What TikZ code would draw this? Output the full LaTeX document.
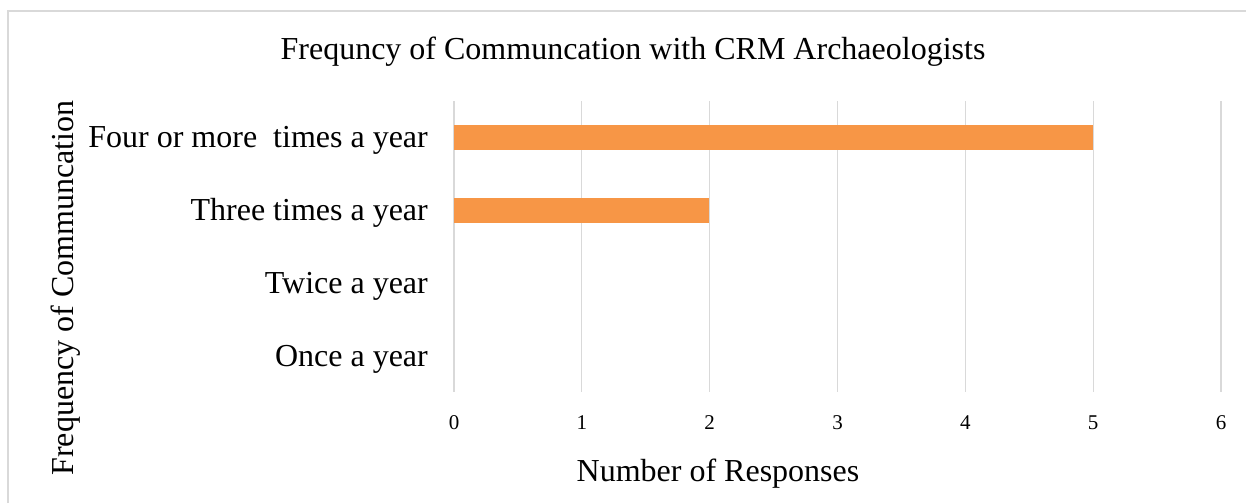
\documentclass[tikz,border=0pt]{standalone}
\usepackage{fontspec}
\setmainfont{Liberation Serif}
\definecolor{barorange}{HTML}{F79646}
\definecolor{gridgray}{HTML}{D9D9D9}
\begin{document}
\begin{tikzpicture}[x=1pt,y=-1pt,
  grid/.style={draw=gridgray,line width=1.3pt},
  bar/.style={fill=barorange,draw=none},
  cat/.style={anchor=east,inner sep=0pt,font=\fontsize{32}{36}\selectfont},
  tick/.style={anchor=center,inner sep=0pt,font=\fontsize{21}{24}\selectfont},
  axtitle/.style={inner sep=0pt,font=\fontsize{32}{36}\selectfont}]
\useasboundingbox (0,0) rectangle (1246,503);
\fill[white] (0,0) rectangle (1246,503);
\draw[gridgray,line width=1.3pt] (8,503) -- (8,11) -- (1246,11);
% gridlines
\foreach \i in {0,...,6} {
  \draw[grid] ({454+127.83*\i},101) -- ({454+127.83*\i},392);
  \node[tick] (t\i) at ({454+127.83*\i},423) {\i};
}
% bars
\fill[bar] (454,125) rectangle (1093,150);
\fill[bar] (454,198) rectangle (709,223);
% category labels
\node[cat] (c4) at (428,140) {Four or more\ \ times a year};
\node[cat] (c3) at (428,213) {Three times a year};
\node[cat] (c2) at (428,286) {Twice a year};
\node[cat] (c1) at (428,359) {Once a year};
% titles
\node[axtitle] (title) at (633,52) {Frequncy of Communcation with CRM Archaeologists};
\node[axtitle] (xt) at (718,474) {Number of Responses};
\node[axtitle,rotate=90] (yt) at (66,288) {Frequency of Communcation};
\end{tikzpicture}
\end{document}
